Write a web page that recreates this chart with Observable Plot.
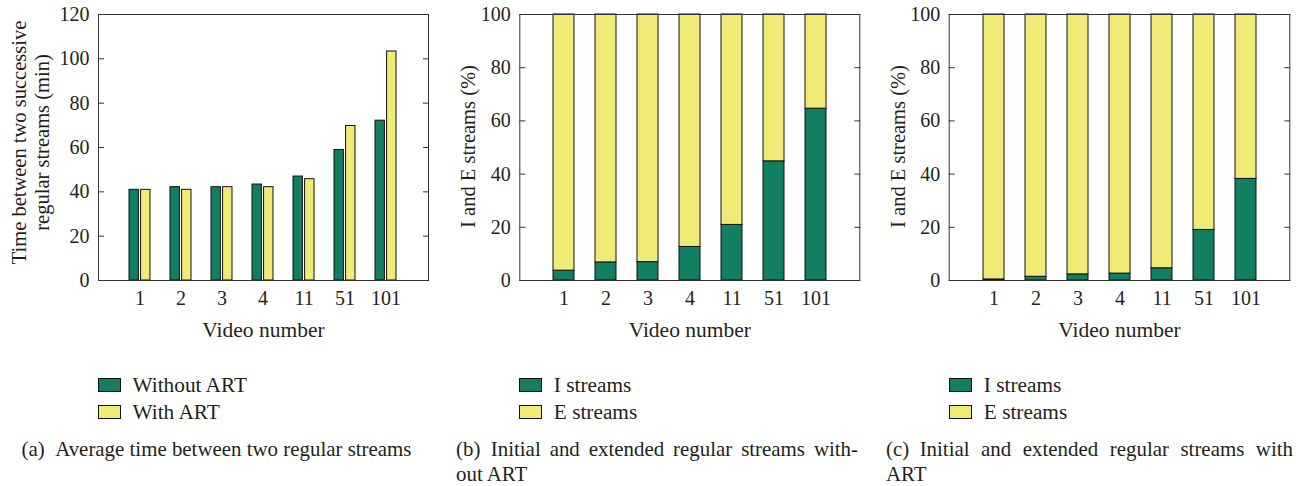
<!DOCTYPE html>
<html>
<head>
<meta charset="utf-8">
<script src="https://cdn.jsdelivr.net/npm/d3@7"></script>
<script src="https://cdn.jsdelivr.net/npm/@observablehq/plot@0.6"></script>
<style>
  html, body { margin: 0; padding: 0; background: #fff; }
  #fig { position: relative; width: 1309px; height: 486px; font-family: "Liberation Serif", serif; color: #231f20; overflow: hidden; }
  .panel { position: absolute; top: 0; height: 486px; }
  .panel svg { position: absolute; left: 0; top: 0; }
  .legend { position: absolute; font-size: 21.3px; }
  .legend .row { position: absolute; white-space: nowrap; height: 26px; }
  .legend .sw { position: absolute; left: 0; width: 21px; height: 12px; border: 1.3px solid #111; }
  .legend .lab { position: absolute; line-height: 26px; top: -6px; }
  .caption { position: absolute; font-size: 20.9px; line-height: 25px; white-space: nowrap; }
  .caption .just { text-align: justify; text-align-last: justify; white-space: normal; }
</style>
</head>
<body>
<div id="fig"></div>
<script>
// Video numbers along the x-axis
const videos = ["1", "2", "3", "4", "11", "51", "101"];

// (a) average time between two successive regular streams (min)
const withoutArt = [40.9, 42.1, 42.1, 43.3, 46.9, 58.9, 72.1];
const withArt = [40.9, 40.9, 42.1, 42.1, 45.7, 69.7, 103.3];

// (b) share of initial (I) and extended (E) regular streams without ART (%)
const iStreamsNoArt = [3.7, 6.8, 6.9, 12.6, 20.9, 44.8, 64.6];
const eStreamsNoArt = [96.3, 93.2, 93.1, 87.4, 79.1, 55.2, 35.4];

// (c) share of initial (I) and extended (E) regular streams with ART (%)
const iStreamsArt = [0.4, 1.4, 2.3, 2.6, 4.6, 19.0, 38.2];
const eStreamsArt = [99.6, 98.6, 97.7, 97.4, 95.4, 81.0, 61.8];

const timeTicks = [0, 20, 40, 60, 80, 100, 120];
const pctTicks = [0, 20, 40, 60, 80, 100];

const seriesA = ["Without ART", "With ART"];
const seriesStack = ["I streams", "E streams"];

const GREEN = "#127f63";
const YELLOW = "#f0eb76";
const EDGE = "#111";
const INK = "#231f20";

const fig = document.getElementById("fig");

function frameMarks(ticks) {
  return [
    Plot.axisY({ticks, tickSize: -6, tickPadding: 15, label: null, stroke: "#333", fill: INK}),
    Plot.axisY({ticks, anchor: "right", tickSize: -6, tickFormat: () => "", label: null, stroke: "#333"}),
    Plot.axisX({tickSize: 0, tickPadding: 10, label: null, fill: INK}),
    Plot.frame({stroke: "#333", strokeWidth: 1})
  ];
}

function baseOptions(width, ml, mr, padInner) {
  return {
    width, height: 350,
    marginLeft: ml, marginRight: mr, marginTop: 14, marginBottom: 70,
    style: {fontFamily: "Liberation Serif, serif", fontSize: "20px", color: INK, background: "transparent", overflow: "visible"},
    x: {type: "band", domain: videos, paddingInner: padInner, paddingOuter: 0.5 + padInner / 2, align: 0.5}
  };
}

function xTitle() {
  return Plot.text(["Video number"], {frameAnchor: "bottom", dy: 56, fontSize: 21.5, fill: INK});
}

function yTitle(label, dx, dy) {
  return Plot.text([label], {frameAnchor: "left", textAnchor: "middle", lineAnchor: "middle", rotate: -90, dx, dy, lineHeight: 1.12, fontSize: 20.5, fill: INK});
}

function makePanel(left, width, svg, legendItems, legendLeft, captionLines, captionWidth, captionLeft) {
  const p = document.createElement("div");
  p.className = "panel";
  p.style.left = left + "px";
  p.style.width = width + "px";
  p.appendChild(svg);

  const lg = document.createElement("div");
  lg.className = "legend";
  lg.style.left = legendLeft + "px";
  lg.style.top = "378px";
  legendItems.forEach(([name, color], i) => {
    const row = document.createElement("div");
    row.className = "row";
    row.style.top = (i * 26.7) + "px";
    const sw = document.createElement("div");
    sw.className = "sw";
    sw.style.background = color;
    const lab = document.createElement("div");
    lab.className = "lab";
    lab.style.left = "34.5px";
    lab.textContent = name;
    row.appendChild(sw);
    row.appendChild(lab);
    lg.appendChild(row);
  });
  p.appendChild(lg);

  const cap = document.createElement("div");
  cap.className = "caption";
  cap.style.left = captionLeft + "px";
  cap.style.top = "437px";
  if (captionLines.length === 1) {
    cap.textContent = captionLines[0];
  } else {
    cap.style.width = captionWidth + "px";
    const l1 = document.createElement("div");
    l1.className = "just";
    l1.textContent = captionLines[0];
    const l2 = document.createElement("div");
    l2.textContent = captionLines[1];
    cap.appendChild(l1);
    cap.appendChild(l2);
  }
  p.appendChild(cap);
  fig.appendChild(p);
}

// (a) grouped bars
const timeData = videos.flatMap((v, i) => [
  {video: v, series: seriesA[0], value: withoutArt[i]},
  {video: v, series: seriesA[1], value: withArt[i]}
]);
const svgA = Plot.plot({
  ...baseOptions(440, 98, 12, 0.484),
  y: {domain: [0, 120]},
  marks: [
    Plot.barY(timeData.filter(d => d.series === seriesA[0]), {x: "video", y: "value", fill: GREEN, stroke: EDGE, strokeWidth: 1, insetRight: 11.6}),
    Plot.barY(timeData.filter(d => d.series === seriesA[1]), {x: "video", y: "value", fill: YELLOW, stroke: EDGE, strokeWidth: 1, insetLeft: 11.6}),
    ...frameMarks(timeTicks),
    yTitle("Time between two successive\nregular streams (min)", -68, -5),
    xTitle()
  ]
});
makePanel(0, 440, svgA, [[seriesA[0], GREEN], [seriesA[1], YELLOW]], 98,
  ["(a)\u2002Average time between two regular streams"], null, 21.5);

// stacked percentage bars for (b) and (c)
function stackPanel(iVals, eVals, ml, mr, width) {
  const data = videos.flatMap((v, i) => [
    {video: v, series: seriesStack[0], value: iVals[i]},
    {video: v, series: seriesStack[1], value: eVals[i]}
  ]);
  return Plot.plot({
    ...baseOptions(width, ml, mr, 0.506),
    y: {domain: [0, 100]},
    color: {domain: seriesStack, range: [GREEN, YELLOW]},
    marks: [
      Plot.barY(data, {x: "video", y: "value", z: "series", fill: "series", stroke: EDGE, strokeWidth: 1}),
      ...frameMarks(pctTicks),
      yTitle("I and E streams (%)", -52, -1),
      xTitle()
    ]
  });
}

const svgB = stackPanel(iStreamsNoArt, eStreamsNoArt, 79.3, 20.7, 440);
makePanel(440, 440, svgB, [[seriesStack[0], GREEN], [seriesStack[1], YELLOW]], 79.3,
  ["(b)\u2002Initial and extended regular streams with-", "out ART"], 402, 16);

const svgC = stackPanel(iStreamsArt, eStreamsArt, 78.7, 19.7, 439);
makePanel(870, 439, svgC, [[seriesStack[0], GREEN], [seriesStack[1], YELLOW]], 79.3,
  ["(c)\u2002Initial and extended regular streams with", "ART"], 407, 16);
</script>
</body>
</html>
